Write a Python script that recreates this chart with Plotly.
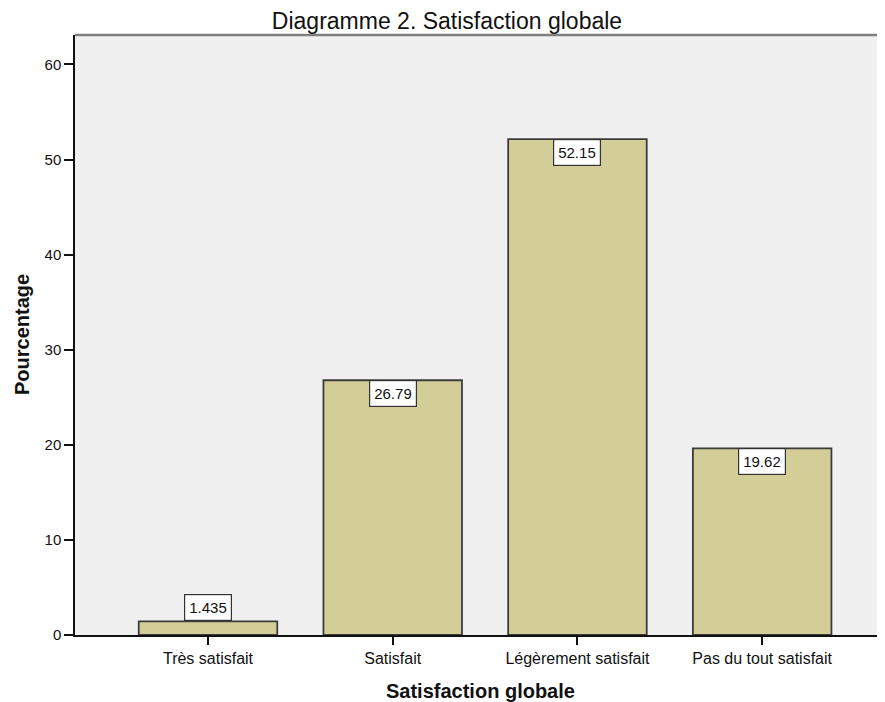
import plotly.graph_objects as go

categories = ["Très satisfait", "Satisfait", "Légèrement satisfait", "Pas du tout satisfait"]
percentages = [1.435, 26.79, 52.15, 19.62]
y_ticks = [0, 10, 20, 30, 40, 50, 60]

BAR_COLOR = "#D3CE97"
EDGE = "#3C3C3C"
FONT = "Liberation Sans, Arial, sans-serif"
INK = "#111111"

fig = go.Figure()
fig.add_trace(go.Bar(
    x=list(range(len(categories))),
    y=percentages,
    width=0.75,
    marker=dict(color=BAR_COLOR, line=dict(color=EDGE, width=1.8)),
    hoverinfo="skip",
))

annotations = []
for i, v in enumerate(percentages):
    inside = v > 5
    annotations.append(dict(
        x=i, y=v, xref="x", yref="y",
        text=f"{v:.4g}", showarrow=False,
        yanchor="top" if inside else "bottom",
        font=dict(family=FONT, size=15, color=INK),
        bgcolor="white", bordercolor="#333333", borderwidth=1.2, borderpad=4,
    ))

# axis titles
annotations.append(dict(
    x=0.5, y=0, xref="paper", yref="paper", yshift=-56,
    text="<b>Satisfaction globale</b>", showarrow=False,
    xanchor="center", yanchor="middle",
    font=dict(family=FONT, size=20, color=INK),
))
annotations.append(dict(
    x=0, y=0.5, xref="paper", yref="paper", xshift=-53,
    text="<b>Pourcentage</b>", showarrow=False, textangle=-90,
    xanchor="center", yanchor="middle",
    font=dict(family=FONT, size=20, color=INK),
))

fig.update_layout(
    width=877, height=694,
    margin=dict(l=67, r=0, t=27, b=67),
    paper_bgcolor="white",
    plot_bgcolor="#F0F0F0",
    showlegend=False,
    font=dict(family=FONT, color=INK),
    title=dict(
        text="Diagramme 2. Satisfaction globale",
        x=(447 - 8) / 877, xref="container", xanchor="center",
        y=1 - 13 / 694, yref="container", yanchor="middle",
        font=dict(family=FONT, size=23, color=INK),
    ),
    annotations=annotations,
    shapes=[dict(type="line", xref="paper", yref="paper", x0=0, x1=1, y0=1, y1=1,
                 line=dict(color="#7F7F7F", width=2.5))],
)

fig.update_xaxes(
    range=[-0.72, 3.665],
    tickmode="array",
    tickvals=list(range(len(categories))),
    ticktext=categories,
    ticks="outside", ticklen=8, tickcolor=INK, tickwidth=1.5,
    showline=True, linecolor=INK, linewidth=1.5,
    showgrid=False, zeroline=False,
    tickfont=dict(family=FONT, size=16, color=INK),
)
fig.update_yaxes(
    range=[0, 63.1],
    tickmode="array",
    tickvals=y_ticks,
    ticks="outside", ticklen=9, tickcolor=INK, tickwidth=1.5,
    showline=True, linecolor=INK, linewidth=1.5,
    showgrid=False, zeroline=False,
    tickfont=dict(family=FONT, size=15, color=INK),
)

fig.write_html("out.html")
